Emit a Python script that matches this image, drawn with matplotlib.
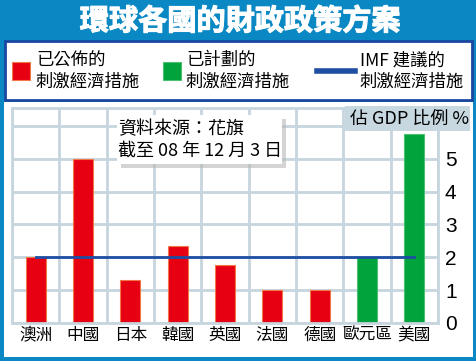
import matplotlib
matplotlib.use("Agg")
import matplotlib.pyplot as plt
import matplotlib.patheffects as pe
from matplotlib.patches import Rectangle

plt.rcParams["font.family"] = ["Noto Sans CJK TC", "DejaVu Sans"]
plt.rcParams["font.weight"] = "medium"

# data (% of GDP)
countries = ["澳洲", "中國", "日本", "韓國", "英國", "法國", "德國", "歐元區", "美國"]
stimulus = [2.0, 5.0, 1.3, 2.33, 1.76, 1.0, 1.0, 2.0, 5.76]
status = ["announced"] * 7 + ["planned"] * 2
imf_level = 2.0
y_ticks = [0, 1, 2, 3, 4, 5]

title = "環球各國的財政政策方案"
legend_labels = ["已公佈的\n刺激經濟措施", "已計劃的\n刺激經濟措施", "IMF 建議的\n刺激經濟措施"]
source_note = "資料來源：花旗\n截至 08 年 12 月 3 日"
unit_label = "佔 GDP 比例 %"

W, H = 477, 361
OUTER = "#0a88c4"
FRAME = "#1a47a0"
GRID = "#c6d5de"
RED, RED_EDGE = "#e60012", "#f2784a"
GREEN, GREEN_EDGE = "#00a33c", "#4cc070"
IMF_BLUE = "#1d4ea3"


def fx(px):
    return px / W


def fy(py):
    return 1 - py / H


def box(x0, y0, x1, y1, **kw):
    # rectangle in pixel coords (top-left origin)
    return Rectangle((fx(x0), fy(y1)), (x1 - x0) / W, (y1 - y0) / H,
                     transform=fig.transFigure, **kw)


fig = plt.figure(figsize=(W / 100, H / 100), dpi=100, facecolor=OUTER)

# panels
fig.patches.append(box(4, 102, 473, 357, facecolor="white", edgecolor="none", zorder=-2))
fig.patches.append(box(5, 41, 472, 100, facecolor="white", edgecolor=FRAME, linewidth=2, zorder=-2))

fig.text(fx(240), fy(21), title, color="white", fontsize=21, fontweight="heavy",
         ha="center", va="center",
         path_effects=[pe.withStroke(linewidth=0.8, foreground="white")])

# legend
fig.patches.append(box(12, 62, 30, 80, facecolor=RED, edgecolor=RED_EDGE, linewidth=0.8))
fig.patches.append(box(163, 62, 181, 80, facecolor=GREEN, edgecolor=GREEN_EDGE, linewidth=0.8))
fig.lines.append(plt.Line2D([fx(317), fx(355)], [fy(71), fy(71)], color=IMF_BLUE,
                            linewidth=4, transform=fig.transFigure))
for x, lab in zip([36, 186, 360], legend_labels):
    fig.text(fx(x), fy(71), lab, fontsize=12.5, ha="left", va="center", linespacing=1.25)

# chart
ax = fig.add_axes([fx(12), fy(323), (438 - 12) / W, (323 - 108) / H])
ax.set_facecolor("white")
xs = list(range(len(countries)))
colors = [RED if s == "announced" else GREEN for s in status]
edges = [RED_EDGE if s == "announced" else GREEN_EDGE for s in status]
ax.bar(xs, stimulus, width=0.42, color=colors, edgecolor=edges, linewidth=0.8, zorder=2)
ax.plot([xs[0], xs[-1]], [imf_level, imf_level], color=IMF_BLUE, linewidth=2, zorder=3)

ax.set_xlim(-0.5, len(countries) - 0.5)
ax.set_ylim(0, 6.54)
for x in range(len(countries) + 1):
    ax.axvline(x - 0.5, color=GRID, linewidth=2, zorder=0)
for y in range(0, 7):
    ax.axhline(y, color=GRID, linewidth=2, zorder=0)
for s in ax.spines.values():
    s.set_color(GRID)
    s.set_linewidth(2)

ax.yaxis.tick_right()
ax.set_yticks(y_ticks)
ax.set_yticklabels([str(t) for t in y_ticks], fontsize=15, family="Liberation Sans")
ax.tick_params(axis="y", length=0, pad=5)
ax.set_xticks(xs)
ax.set_xticklabels(countries, fontsize=12)
ax.tick_params(axis="x", length=0, pad=3)

# source note with shadow
fig.patches.append(box(121, 119, 286, 168, facecolor="#b8b8b8", edgecolor="none", alpha=0.6, zorder=4))
fig.patches.append(box(117, 115, 282, 164, facecolor="white", edgecolor="none", zorder=5))
fig.text(fx(118), fy(140), source_note, fontsize=13, ha="left", va="center",
         linespacing=1.3, zorder=6)

# unit label
fig.patches.append(box(345, 106, 470, 131, facecolor="#c8d8e1", edgecolor="none", zorder=4))
fig.text(fx(350), fy(119), unit_label, fontsize=13, ha="left", va="center", zorder=6)

fig.savefig("out.png", dpi=100, facecolor=OUTER)
